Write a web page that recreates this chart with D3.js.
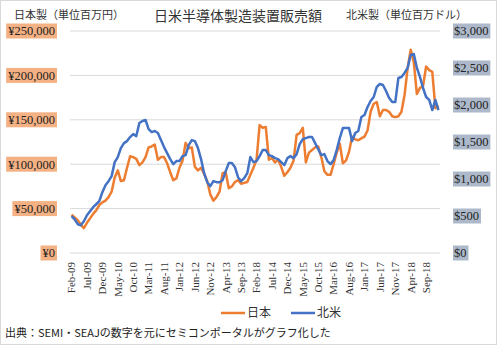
<!DOCTYPE html>
<html>
<head>
<meta charset="utf-8">
<script src="https://cdn.jsdelivr.net/npm/d3@7"></script>
<style>
  body { margin: 0; background: #fff; }
  svg { display: block; }
</style>
</head>
<body>
<div id="chart"></div>
<script>
// Monthly sales, Feb-09 .. Jan-19
const startMonth = new Date(2009, 1, 1);
// Japan-made equipment (million yen)
const japanValues = [
  43000, 40000, 37000, 32000, 28000, 34000, 39000, 44000, 48000, 54000, 57000, 59000,
  63000, 69000, 85000, 93000, 81000, 82000, 96000, 109000, 108000, 106000, 99000, 102000,
  108000, 119000, 120000, 122000, 105000, 108000, 108000, 101000, 91000, 82000, 84000, 96000,
  104000, 124000, 118000, 119000, 97000, 93000, 96000, 89000, 81000, 66000, 59000, 63000,
  69000, 90000, 91000, 73000, 75000, 80000, 82000, 78000, 79000, 80000, 88000, 96000,
  105000, 144000, 141000, 142000, 105000, 107000, 102000, 105000, 97000, 87000, 91000, 96000,
  104000, 133000, 135000, 141000, 102000, 113000, 116000, 119000, 120000, 108000, 92000, 88000,
  88000, 100000, 113000, 123000, 101000, 104000, 114000, 131000, 128000, 127000, 129000, 131000,
  138000, 159000, 168000, 170000, 154000, 161000, 161000, 159000, 154000, 153000, 154000, 159000,
  178000, 208000, 229000, 215000, 179000, 186000, 188000, 210000, 206000, 204000, 163000, 166000
];
// North America-made equipment (million dollars)
const naValues = [
  497, 456, 389, 375, 429, 510, 565, 619, 659, 700, 822, 917,
  971, 1039, 1228, 1296, 1418, 1485, 1512, 1567, 1607, 1580, 1756, 1783,
  1797, 1675, 1634, 1648, 1621, 1526, 1431, 1350, 1269, 1201, 1242, 1242,
  1309, 1323, 1458, 1526, 1512, 1418, 1269, 1079, 957, 903, 971, 957,
  957, 984, 1106, 1215, 1215, 1160, 1025, 971, 1011, 1079, 1296, 1228,
  1242, 1309, 1391, 1391, 1323, 1309, 1282, 1269, 1228, 1187, 1282, 1309,
  1282, 1336, 1472, 1539, 1553, 1567, 1567, 1485, 1404, 1323, 1336, 1242,
  1201, 1255, 1391, 1553, 1688, 1688, 1688, 1512, 1621, 1648, 1837, 1864,
  1973, 2054, 2108, 2244, 2284, 2270, 2189, 2095, 2040, 2040, 2365, 2379,
  2433, 2501, 2677, 2690, 2501, 2379, 2230, 2108, 2068, 1932, 2068, 1932
];
const yenTicks = [0, 50000, 100000, 150000, 200000, 250000];
const dollarTicks = [0, 500, 1000, 1500, 2000, 2500, 3000];
const seriesNames = ["日本", "北米"];
const seriesColors = ["#ED7D31", "#4472C4"];

const fmtMonth = d3.timeFormat("%b-%y");
const months = japanValues.map((_, i) => fmtMonth(d3.timeMonth.offset(startMonth, i)));
// label every 5th month; the source chart mislabels Feb-14 as "Feb-18"
const tickLabel = (m) => (m === "Feb-14" ? "Feb-18" : m);

const width = 497, height = 345;
const margin = { left: 70, right: 57, top: 31, bottom: 92 };
const serif = "'Liberation Serif', 'Times New Roman', serif";
const jp = "'Noto Sans CJK JP', sans-serif";

const svg = d3.select("#chart").append("svg").attr("width", width).attr("height", height);

svg.append("rect")
  .attr("x", 0.5).attr("y", 0.5)
  .attr("width", width - 1).attr("height", height - 1)
  .attr("fill", "#fff").attr("stroke", "#d9d9d9");

const x = d3.scaleBand().domain(months).range([margin.left, width - margin.right]);
const yLeft = d3.scaleLinear().domain([0, 250000]).range([height - margin.bottom, margin.top]);
const yRight = d3.scaleLinear().domain([0, 3000]).range([height - margin.bottom, margin.top]);

// gridlines (left axis)
svg.append("g")
  .selectAll("line")
  .data(yenTicks)
  .join("line")
  .attr("x1", margin.left).attr("x2", width - margin.right)
  .attr("y1", (d) => yLeft(d)).attr("y2", (d) => yLeft(d))
  .attr("stroke", "#d9d9d9").attr("stroke-width", 1);

// left tick labels with orange boxes
const yenFmt = (d) => "¥" + d3.format(",")(d);
const leftG = svg.append("g").attr("transform", "translate(57,0)");
const leftT = leftG.selectAll("g").data(yenTicks).join("g")
  .attr("transform", (d) => `translate(0,${yLeft(d)})`);
leftT.append("rect").attr("fill", "#F4B183");
leftT.append("text")
  .attr("x", -2).attr("dy", "0.35em")
  .attr("text-anchor", "end")
  .style("font-family", serif).style("font-size", "12.5px").attr("fill", "#222")
  .text(yenFmt);
leftT.each(function () {
  const b = d3.select(this).select("text").node().getBBox();
  d3.select(this).select("rect")
    .attr("x", b.x - 2).attr("y", -7.5).attr("width", b.width + 4).attr("height", 15);
});

// right tick labels with grey-blue boxes
const dolFmt = (d) => "$" + d3.format(",")(d);
const rightG = svg.append("g").attr("transform", "translate(453,0)");
const rightT = rightG.selectAll("g").data(dollarTicks).join("g")
  .attr("transform", (d) => `translate(0,${yRight(d)})`);
rightT.append("rect").attr("fill", "#ADB9CA");
rightT.append("text")
  .attr("x", 1).attr("dy", "0.35em")
  .style("font-family", serif).style("font-size", "12.5px").attr("fill", "#222")
  .text(dolFmt);
rightT.each(function () {
  const b = d3.select(this).select("text").node().getBBox();
  d3.select(this).select("rect")
    .attr("x", 0).attr("y", -7.5).attr("width", b.width + 3).attr("height", 15);
});

// x axis labels, every 5 months, rotated
const xTicks = months.filter((_, i) => i % 5 === 0);
svg.append("g")
  .selectAll("text")
  .data(xTicks)
  .join("text")
  .attr("transform", (d) => `translate(${x(d) + x.bandwidth() / 2 + 3.8},${height - margin.bottom + 9}) rotate(-90)`)
  .attr("text-anchor", "end")
  .style("font-family", serif).style("font-size", "11px").attr("fill", "#333")
  .text(tickLabel);

// lines
const xc = (i) => x(months[i]) + x.bandwidth() / 2;
const japanLine = d3.line().x((d, i) => xc(i)).y((d) => yLeft(d));
const naLine = d3.line().x((d, i) => xc(i)).y((d) => yRight(d));

svg.append("path")
  .datum(japanValues)
  .attr("d", japanLine)
  .attr("fill", "none").attr("stroke", seriesColors[0])
  .attr("stroke-width", 2.5).attr("stroke-linejoin", "round");

svg.append("path")
  .datum(naValues)
  .attr("d", naLine)
  .attr("fill", "none").attr("stroke", seriesColors[1])
  .attr("stroke-width", 2.5).attr("stroke-linejoin", "round");

// titles
svg.append("text")
  .attr("x", 238).attr("y", 21)
  .attr("text-anchor", "middle")
  .style("font-family", jp).style("font-size", "14px").attr("fill", "#333")
  .text("日米半導体製造装置販売額");

svg.append("text")
  .attr("x", 14).attr("y", 19)
  .style("font-family", jp).style("font-size", "11px").attr("fill", "#333")
  .text("日本製（単位百万円）");

svg.append("text")
  .attr("x", 346).attr("y", 19)
  .style("font-family", jp).style("font-size", "11px").attr("fill", "#333")
  .text("北米製（単位百万ドル）");

// legend
const legend = svg.append("g").attr("transform", "translate(221,313)");
const item = legend.selectAll("g").data(seriesNames).join("g")
  .attr("transform", (d, i) => `translate(${i * 70},0)`);
item.append("line")
  .attr("x1", 0).attr("x2", 24)
  .attr("stroke", (d, i) => seriesColors[i]).attr("stroke-width", 2.5);
item.append("text")
  .attr("x", 26).attr("dy", "0.35em")
  .style("font-family", jp).style("font-size", "12px").attr("fill", "#333")
  .text((d) => d);

// source note
svg.append("text")
  .attr("x", 5).attr("y", 337)
  .style("font-family", jp).style("font-size", "11px").attr("fill", "#222")
  .text("出典：SEMI・SEAJの数字を元にセミコンポータルがグラフ化した");
</script>
</body>
</html>
